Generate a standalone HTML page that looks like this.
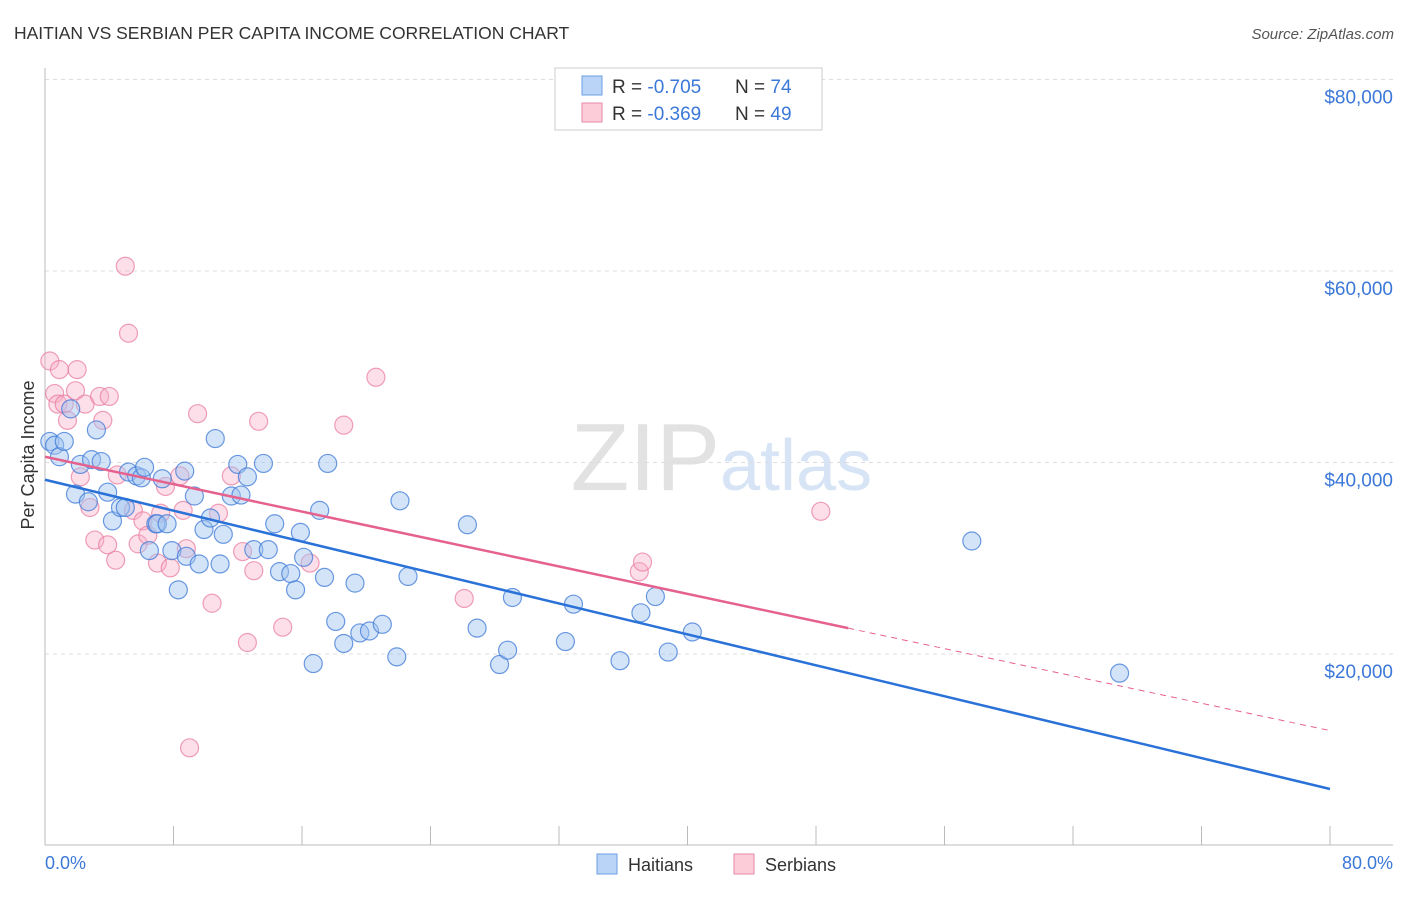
<!DOCTYPE html>
<html><head><meta charset="utf-8"><style>
body{margin:0;background:#fff;font-family:"Liberation Sans",sans-serif}
svg text{font-family:"Liberation Sans",sans-serif}
</style></head><body>
<svg id="chart" width="1406" height="892" viewBox="0 0 1406 892">
<text x="14" y="39" font-size="17.5" fill="#333">HAITIAN VS SERBIAN PER CAPITA INCOME CORRELATION CHART</text>
<text x="1394" y="39" font-size="15" fill="#555" text-anchor="end" font-style="italic">Source: ZipAtlas.com</text>
<text x="720" y="490" font-size="96" fill="#e2e2e2" text-anchor="end" font-family="Liberation Serif">ZIP</text>
<text x="720" y="490" font-size="72" fill="#d6e4f5">atlas</text>
<g id="grid"></g><g id="axes"></g><g id="pts"></g><g id="lines"></g>
<text transform="translate(34,455) rotate(-90)" font-size="18" fill="#333" text-anchor="middle">Per Capita Income</text>
<text x="45" y="869" font-size="18" fill="#3b78d8">0.0%</text>
<text x="1393" y="869" font-size="18" fill="#3b78d8" text-anchor="end">80.0%</text>
<g>
<rect x="597" y="854" width="20" height="20" fill="#b9d4f6" stroke="#6c9ee0"/>
<text x="628" y="871" font-size="18" fill="#333">Haitians</text>
<rect x="734" y="854" width="20" height="20" fill="#fcccd9" stroke="#e98aa8"/>
<text x="765" y="871" font-size="18" fill="#333">Serbians</text>
</g>
<g>
<rect x="555" y="68" width="267" height="62" fill="#fff" stroke="#ccc"/>
<rect x="582" y="76" width="20" height="19" fill="#b9d4f6" stroke="#6c9ee0"/>
<rect x="582" y="103" width="20" height="19" fill="#fcccd9" stroke="#e98aa8"/>
<text x="612" y="93" font-size="19" fill="#333">R = <tspan fill="#3b78d8">-0.705</tspan><tspan x="735">N = </tspan><tspan fill="#3b78d8">74</tspan></text>
<text x="612" y="120" font-size="19" fill="#333">R = <tspan fill="#3b78d8">-0.369</tspan><tspan x="735">N = </tspan><tspan fill="#3b78d8">49</tspan></text>
</g>
</svg>
<script>
const yTicks=[20000,40000,60000,80000];
const yTickLabels=["$20,000","$40,000","$60,000","$80,000"];
const xTicks=[0,8,16,24,32,40,48,56,64,72,80];
const haitiansX=[0.3,0.6,0.9,1.2,1.6,1.9,2.2,2.7,2.9,3.2,3.5,3.9,4.2,4.7,5.0,5.2,5.7,6.0,6.2,6.5,6.9,7.0,7.3,7.6,7.9,8.3,8.7,8.8,9.3,9.6,9.9,10.3,10.6,10.9,11.1,11.6,12.0,12.2,12.6,13.0,13.6,13.9,14.3,14.6,15.3,15.6,15.9,16.1,16.7,17.1,17.4,17.6,18.1,18.6,19.3,19.6,20.2,21.0,21.9,22.1,22.6,26.3,26.9,28.3,28.8,29.1,32.4,32.9,35.8,37.1,38.0,38.8,40.3,57.7,66.9];
const haitiansY=[42200,41800,40600,42200,45600,36700,39800,35900,40300,43400,40100,36900,33900,35300,35300,39000,38600,38400,39500,30800,33600,33600,38300,33600,30800,26700,39100,30200,36500,29400,33000,34200,42500,29400,32500,36500,39800,36600,38500,30900,39900,30900,33600,28600,28400,26700,32700,30100,19000,35000,28000,39900,23400,21100,27400,22200,22400,23100,19700,36000,28100,33500,22700,18900,20400,25900,21300,25200,19300,24300,26000,20200,22300,31800,18000];
const serbiansX=[0.3,0.6,0.8,0.9,1.2,1.4,1.9,2.0,2.2,2.5,2.8,3.1,3.4,3.6,3.9,4.0,4.4,4.5,5.0,5.2,5.5,5.8,6.1,6.4,7.0,7.2,7.5,7.8,8.4,8.6,8.8,9.0,9.5,10.4,10.8,11.6,12.3,12.6,13.0,13.3,14.8,16.5,18.6,20.6,26.1,37.0,37.2,48.3];
const serbiansY=[50600,47200,46100,49700,46100,44400,47500,49700,38500,46100,35300,31900,46900,44400,31400,46900,29800,38700,60500,53500,35000,31500,33900,32400,29500,34700,37500,29000,38600,35000,31000,10200,45100,25300,34700,38600,30700,21200,28700,44300,22800,29500,43900,48900,25800,28600,29600,34900];
const blueLine=[[0,38200],[80,5900]];
const pinkLine=[[0,40600],[50,22700],[80,12000]];
const X=v=>45+v*16.0625, Y=v=>845.5-v*191.5/20000;
const NS="http://www.w3.org/2000/svg";
function mk(t,a,p){const e=document.createElementNS(NS,t);for(const k in a)e.setAttribute(k,a[k]);p.appendChild(e);return e;}
const grid=document.getElementById('grid'),axes=document.getElementById('axes'),pts=document.getElementById('pts'),lines=document.getElementById('lines');
yTicks.forEach((v,i)=>{
 const l=mk('line',{x1:45,x2:1393,y1:Y(v),y2:Y(v),stroke:'#ddd','stroke-dasharray':'4,4'},grid);
 
 
 const t=mk('text',{x:1393,y:Y(v)+24,'font-size':19,fill:'#3b78d8','text-anchor':'end'},grid);
 t.textContent=yTickLabels[i];
 
 
});
const ya=mk('line',{x1:45,x2:45,y1:68,y2:845,stroke:'#bbb'},axes);


const xa=mk('line',{x1:45,x2:1393,y1:845,y2:845,stroke:'#bbb'},axes);


xTicks.forEach(v=>{
 const t=mk('line',{x1:X(v),x2:X(v),y1:826,y2:845,stroke:'#bbb'},axes);
 
 
});
serbiansX.forEach((v,i)=>{
 const c=mk('circle',{cx:X(v),cy:Y(serbiansY[i]),r:9,fill:'rgba(248,176,199,0.4)',stroke:'rgba(232,120,155,0.7)','stroke-width':1.2},pts);
 
 
});
haitiansX.forEach((v,i)=>{
 const c=mk('circle',{cx:X(v),cy:Y(haitiansY[i]),r:9,fill:'rgba(160,196,240,0.45)',stroke:'rgba(60,120,215,0.75)','stroke-width':1.2},pts);
 
 
});
const bl=mk('line',{x1:X(blueLine[0][0]),y1:Y(blueLine[0][1]),x2:X(blueLine[1][0]),y2:Y(blueLine[1][1]),stroke:'#2a72d8','stroke-width':2.5},lines);


const pl=mk('line',{x1:X(pinkLine[0][0]),y1:Y(pinkLine[0][1]),x2:X(pinkLine[1][0]),y2:Y(pinkLine[1][1]),stroke:'#e5628e','stroke-width':2.5},lines);


const pd=mk('line',{x1:X(pinkLine[1][0]),y1:Y(pinkLine[1][1]),x2:X(pinkLine[2][0]),y2:Y(pinkLine[2][1]),stroke:'#e5628e','stroke-width':1,'stroke-dasharray':'6,5'},lines);


</script>
</body></html>
